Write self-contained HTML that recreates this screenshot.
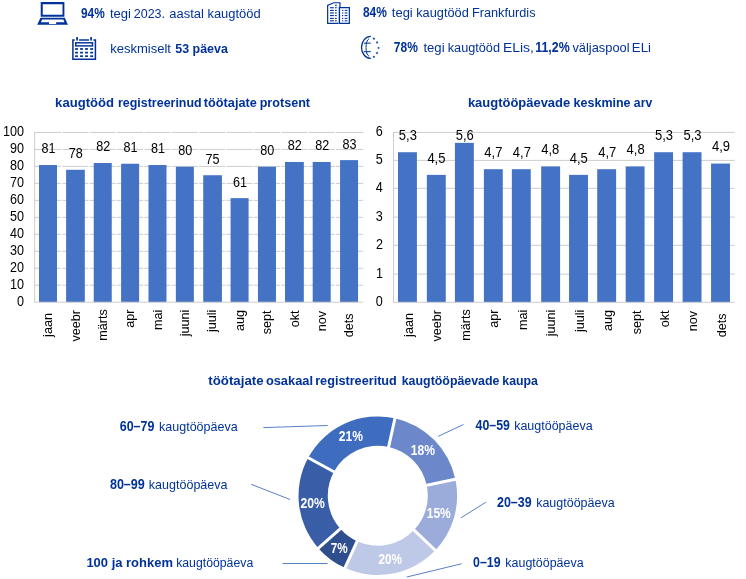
<!DOCTYPE html>
<html><head><meta charset="utf-8"><title>Kaugtöö</title>
<style>html,body{margin:0;padding:0;background:#fff;}body{width:746px;height:579px;overflow:hidden;font-family:"Liberation Sans",sans-serif;}svg{display:block;}text{font-family:"Liberation Sans",sans-serif;}#wrap{will-change:transform;width:746px;height:579px;}</style></head><body><div id="wrap">
<svg width="746" height="579" viewBox="0 0 746 579">
<rect width="746" height="579" fill="#fff"/>
<text transform="translate(80.99,18.00) rotate(0.02) scale(0.8468,1.0)" font-size="14" font-weight="bold" fill="#003299">94%</text>
<text transform="translate(110.00,18.00) rotate(0.02) scale(0.9804,1.0)" font-size="13.3" fill="#003299">tegi</text>
<text transform="translate(133.78,18.00) rotate(0.02) scale(0.9389,1.0)" font-size="13.3" fill="#003299">2023.</text>
<text transform="translate(169.25,18.00) rotate(0.02) scale(0.9751,1.0)" font-size="13.3" fill="#003299">aastal</text>
<text transform="translate(207.43,18.00) rotate(0.02) scale(0.9742,1.0)" font-size="13.3" fill="#003299">kaugtööd</text>
<text transform="translate(110.22,53.00) rotate(0.02) scale(0.9790,1.0)" font-size="13.3" fill="#003299">keskmiselt</text>
<text transform="translate(175.23,53.00) rotate(0.02) scale(0.9168,1.0)" font-size="13.6" font-weight="bold" fill="#003299">53 päeva</text>
<text transform="translate(362.91,17.00) rotate(0.02) scale(0.8568,1.0)" font-size="14" font-weight="bold" fill="#003299">84%</text>
<text transform="translate(391.80,17.00) rotate(0.02) scale(0.9779,1.0)" font-size="13.3" fill="#003299">tegi</text>
<text transform="translate(416.24,17.00) rotate(0.02) scale(0.9610,1.0)" font-size="13.3" fill="#003299">kaugtööd</text>
<text transform="translate(471.95,17.00) rotate(0.02) scale(0.9574,1.0)" font-size="13.3" fill="#003299">Frankfurdis</text>
<text transform="translate(393.79,52.00) rotate(0.02) scale(0.8575,1.0)" font-size="14" font-weight="bold" fill="#003299">78%</text>
<text transform="translate(423.40,52.00) rotate(0.02) scale(0.9878,1.0)" font-size="13.3" fill="#003299">tegi</text>
<text transform="translate(447.74,52.00) rotate(0.02) scale(0.9553,1.0)" font-size="13.3" fill="#003299">kaugtööd</text>
<text transform="translate(502.90,52.00) rotate(0.02) scale(1.0508,1.0)" font-size="13.3" fill="#003299">ELis,</text>
<text transform="translate(535.22,52.00) rotate(0.02) scale(0.8869,1.0)" font-size="14" font-weight="bold" fill="#003299">11,2%</text>
<text transform="translate(572.44,52.00) rotate(0.02) scale(0.9658,1.0)" font-size="13.3" fill="#003299">väljaspool</text>
<text transform="translate(631.87,52.00) rotate(0.02) scale(0.9893,1.0)" font-size="13.3" fill="#003299">ELi</text>
<path fill-rule="evenodd" d="M40.72 1.94 H64.4 V16.7 H40.72 Z M42.76 4.18 V14.87 H62.5 V4.18 Z" fill="#003299"/>
<path fill-rule="evenodd" d="M40.52 17.83 L64.8 17.83 L67.9 24.86 L37.16 24.86 Z M42.15 19.46 L40.9 22.16 L49.0 22.16 L49.0 23.94 L56.16 23.94 L56.16 22.16 L64.46 22.16 L63.3 19.46 Z" fill="#003299"/>
<g fill="none" stroke="#003299" stroke-width="1.5"><path d="M74.7 40 H72.9 V59.15 H95.4 V40 H93.4"/><path d="M79.1 40 H89"/></g>
<rect x="75.7" y="42.8" width="16.8" height="3.1" fill="none" stroke="#003299" stroke-width="1.45"/>
<g fill="#003299"><rect x="76.2" y="37.05" width="1.75" height="3.5"/><rect x="90.2" y="37.05" width="1.75" height="3.5"/>
<rect x="75.1" y="48.1" width="2.85" height="1.75"/>
<rect x="80.1" y="48.1" width="2.85" height="1.75"/>
<rect x="85.1" y="48.1" width="2.85" height="1.75"/>
<rect x="90.2" y="48.1" width="2.85" height="1.75"/>
<rect x="75.1" y="51.75" width="2.85" height="1.75"/>
<rect x="80.1" y="51.75" width="2.85" height="1.75"/>
<rect x="85.1" y="51.75" width="2.85" height="1.75"/>
<rect x="90.2" y="51.75" width="2.85" height="1.75"/>
<rect x="75.1" y="55.3" width="2.85" height="1.75"/>
<rect x="80.1" y="55.3" width="2.85" height="1.75"/>
<rect x="85.1" y="55.3" width="2.85" height="1.75"/>
<rect x="90.2" y="55.3" width="2.85" height="1.75"/>
</g>
<g fill="none" stroke="#003299" stroke-width="1.2" stroke-linejoin="miter"><path d="M338.5 23.3 L327.65 23.3 L327.65 5.5 L333.7 2.75 L339.95 2.75 L339.95 7.6"/><path d="M339.4 7.65 L349.35 7.65 L349.35 23.3 L339.4 23.3"/></g>
<line x1="339.4" y1="7" x2="339.4" y2="23.9" stroke="#003299" stroke-width="1.4"/>
<g fill="#003299">
<rect x="334.95" y="4.75" width="1.8" height="1.1"/>
<rect x="330.0" y="7.19" width="3.85" height="1.1"/>
<rect x="334.95" y="7.19" width="1.8" height="1.1"/>
<rect x="330.0" y="9.85" width="3.85" height="1.1"/>
<rect x="334.95" y="9.85" width="1.8" height="1.1"/>
<rect x="330.0" y="12.41" width="3.85" height="1.1"/>
<rect x="334.95" y="12.41" width="1.8" height="1.1"/>
<rect x="330.0" y="15.02" width="3.85" height="1.1"/>
<rect x="334.95" y="15.02" width="1.8" height="1.1"/>
<rect x="330.0" y="17.85" width="3.85" height="1.1"/>
<rect x="334.95" y="17.85" width="1.8" height="1.1"/>
<rect x="330.0" y="20.25" width="3.85" height="1.1"/>
<rect x="334.95" y="20.25" width="1.8" height="1.1"/>
<rect x="342.05" y="9.85" width="1.25" height="1.1"/><rect x="344.7" y="9.85" width="2.7" height="1.1"/>
<rect x="342.05" y="12.41" width="1.25" height="1.1"/><rect x="344.7" y="12.41" width="2.7" height="1.1"/>
<rect x="342.05" y="15.02" width="1.25" height="1.1"/><rect x="344.7" y="15.02" width="2.7" height="1.1"/>
<rect x="342.05" y="17.85" width="1.25" height="1.1"/><rect x="344.7" y="17.85" width="2.7" height="1.1"/>
<rect x="342.05" y="20.25" width="1.25" height="1.1"/><rect x="344.7" y="20.25" width="2.7" height="1.1"/>
</g>
<g fill="none" stroke="#003299"><path d="M370.8 36.45 A9.3 11.0 0 0 0 370.8 58.45" stroke-width="1.3"/><path d="M369.0 38.7 A4.2 9.2 0 0 0 369.0 56.3" stroke-width="1.0"/><path d="M363.8 43.15 H370.8 M363.8 51.7 H370.8" stroke-width="1.0"/></g>
<polygon points="373.90,37.10 374.28,38.12 375.37,38.17 374.52,38.85 374.81,39.90 373.90,39.30 372.99,39.90 373.28,38.85 372.43,38.17 373.52,38.12" fill="#003299"/>
<polygon points="377.10,40.85 377.48,41.87 378.57,41.92 377.72,42.60 378.01,43.65 377.10,43.05 376.19,43.65 376.48,42.60 375.63,41.92 376.72,41.87" fill="#003299"/>
<polygon points="378.50,46.40 378.88,47.42 379.97,47.47 379.12,48.15 379.41,49.20 378.50,48.60 377.59,49.20 377.88,48.15 377.03,47.47 378.12,47.42" fill="#003299"/>
<polygon points="377.00,51.55 377.38,52.57 378.47,52.62 377.62,53.30 377.91,54.35 377.00,53.75 376.09,54.35 376.38,53.30 375.53,52.62 376.62,52.57" fill="#003299"/>
<polygon points="373.90,55.35 374.28,56.37 375.37,56.42 374.52,57.10 374.81,58.15 373.90,57.55 372.99,58.15 373.28,57.10 372.43,56.42 373.52,56.37" fill="#003299"/>
<text transform="translate(55.11,107.00) rotate(0.02) scale(0.9848,1.0)" font-size="13.3" font-weight="bold" fill="#003299">kaugtööd</text>
<text transform="translate(117.99,107.00) rotate(0.02) scale(0.9358,1.0)" font-size="13.3" font-weight="bold" fill="#003299">registreerinud</text>
<text transform="translate(203.84,107.00) rotate(0.02) scale(0.9555,1.0)" font-size="13.3" font-weight="bold" fill="#003299">töötajate</text>
<text transform="translate(259.64,107.00) rotate(0.02) scale(0.9483,1.0)" font-size="13.3" font-weight="bold" fill="#003299">protsent</text>
<text transform="translate(467.89,107.00) rotate(0.02) scale(0.9761,1.0)" font-size="13.3" font-weight="bold" fill="#003299">kaugtööpäevade</text>
<text transform="translate(573.62,107.00) rotate(0.02) scale(0.9401,1.0)" font-size="13.3" font-weight="bold" fill="#003299">keskmine</text>
<text transform="translate(633.83,107.00) rotate(0.02) scale(0.9222,1.0)" font-size="13.3" font-weight="bold" fill="#003299">arv</text>
<text transform="translate(208.33,385.00) rotate(0.02) scale(0.9982,1.0)" font-size="13.3" font-weight="bold" fill="#003299">töötajate</text>
<text transform="translate(265.89,385.00) rotate(0.02) scale(0.9662,1.0)" font-size="13.3" font-weight="bold" fill="#003299">osakaal</text>
<text transform="translate(315.18,385.00) rotate(0.02) scale(0.9532,1.0)" font-size="13.3" font-weight="bold" fill="#003299">registreeritud</text>
<text transform="translate(401.73,385.00) rotate(0.02) scale(0.9317,1.0)" font-size="13.3" font-weight="bold" fill="#003299">kaugtööpäevade</text>
<text transform="translate(502.34,385.00) rotate(0.02) scale(0.9254,1.0)" font-size="13.3" font-weight="bold" fill="#003299">kaupa</text>
<text transform="translate(16.93,305.80) rotate(0.02) scale(0.9000,1.0)" font-size="14" fill="#000">0</text>
<line x1="34.65" y1="285.22" x2="363.2" y2="285.22" stroke="#CDCDCD" stroke-width="1"/>
<text transform="translate(9.94,288.82) rotate(0.02) scale(0.9000,1.0)" font-size="14" fill="#000">10</text>
<line x1="34.65" y1="268.25" x2="363.2" y2="268.25" stroke="#CDCDCD" stroke-width="1"/>
<text transform="translate(9.94,271.85) rotate(0.02) scale(0.9000,1.0)" font-size="14" fill="#000">20</text>
<line x1="34.65" y1="251.27" x2="363.2" y2="251.27" stroke="#CDCDCD" stroke-width="1"/>
<text transform="translate(9.94,254.87) rotate(0.02) scale(0.9000,1.0)" font-size="14" fill="#000">30</text>
<line x1="34.65" y1="234.30" x2="363.2" y2="234.30" stroke="#CDCDCD" stroke-width="1"/>
<text transform="translate(9.94,237.90) rotate(0.02) scale(0.9000,1.0)" font-size="14" fill="#000">40</text>
<line x1="34.65" y1="217.32" x2="363.2" y2="217.32" stroke="#CDCDCD" stroke-width="1"/>
<text transform="translate(9.94,220.92) rotate(0.02) scale(0.9000,1.0)" font-size="14" fill="#000">50</text>
<line x1="34.65" y1="200.35" x2="363.2" y2="200.35" stroke="#CDCDCD" stroke-width="1"/>
<text transform="translate(9.94,203.95) rotate(0.02) scale(0.9000,1.0)" font-size="14" fill="#000">60</text>
<line x1="34.65" y1="183.38" x2="363.2" y2="183.38" stroke="#CDCDCD" stroke-width="1"/>
<text transform="translate(9.94,186.97) rotate(0.02) scale(0.9000,1.0)" font-size="14" fill="#000">70</text>
<line x1="34.65" y1="166.40" x2="363.2" y2="166.40" stroke="#CDCDCD" stroke-width="1"/>
<text transform="translate(9.94,170.00) rotate(0.02) scale(0.9000,1.0)" font-size="14" fill="#000">80</text>
<line x1="34.65" y1="149.42" x2="363.2" y2="149.42" stroke="#CDCDCD" stroke-width="1"/>
<text transform="translate(9.94,153.02) rotate(0.02) scale(0.9000,1.0)" font-size="14" fill="#000">90</text>
<line x1="34.65" y1="132.45" x2="363.2" y2="132.45" stroke="#CDCDCD" stroke-width="1"/>
<text transform="translate(3.05,136.05) rotate(0.02) scale(0.9003,1.0)" font-size="14" fill="#000">100</text>
<line x1="61.69" y1="130.45" x2="61.69" y2="301.2" stroke="#fff" stroke-width="1.2"/>
<line x1="89.06" y1="130.45" x2="89.06" y2="301.2" stroke="#fff" stroke-width="1.2"/>
<line x1="116.42" y1="130.45" x2="116.42" y2="301.2" stroke="#fff" stroke-width="1.2"/>
<line x1="143.80" y1="130.45" x2="143.80" y2="301.2" stroke="#fff" stroke-width="1.2"/>
<line x1="171.16" y1="130.45" x2="171.16" y2="301.2" stroke="#fff" stroke-width="1.2"/>
<line x1="198.53" y1="130.45" x2="198.53" y2="301.2" stroke="#fff" stroke-width="1.2"/>
<line x1="225.91" y1="130.45" x2="225.91" y2="301.2" stroke="#fff" stroke-width="1.2"/>
<line x1="253.28" y1="130.45" x2="253.28" y2="301.2" stroke="#fff" stroke-width="1.2"/>
<line x1="280.64" y1="130.45" x2="280.64" y2="301.2" stroke="#fff" stroke-width="1.2"/>
<line x1="308.01" y1="130.45" x2="308.01" y2="301.2" stroke="#fff" stroke-width="1.2"/>
<line x1="335.38" y1="130.45" x2="335.38" y2="301.2" stroke="#fff" stroke-width="1.2"/>
<rect x="39.00" y="165.04" width="18.00" height="137.16" fill="#4472C4"/>
<text transform="translate(41.44,153.24) rotate(0.02) scale(0.9000,1.0)" font-size="14" fill="#000">81</text>
<text transform="translate(52.20,336.89) rotate(-90.02) scale(0.947,1)" font-size="13.3" fill="#000">jaan</text>
<rect x="66.12" y="169.79" width="18.70" height="132.41" fill="#4472C4"/>
<text transform="translate(68.71,158.29) rotate(0.02) scale(0.9000,1.0)" font-size="14" fill="#000">78</text>
<text transform="translate(79.57,341.60) rotate(-90.02) scale(0.947,1)" font-size="13.3" fill="#000">veebr</text>
<rect x="93.74" y="163.00" width="18.00" height="139.19" fill="#4472C4"/>
<text transform="translate(96.19,150.60) rotate(0.02) scale(0.9000,1.0)" font-size="14" fill="#000">82</text>
<text transform="translate(106.94,340.65) rotate(-90.02) scale(0.947,1)" font-size="13.3" fill="#000">märts</text>
<rect x="121.11" y="163.75" width="18.00" height="138.45" fill="#4472C4"/>
<text transform="translate(123.55,151.95) rotate(0.02) scale(0.9000,1.0)" font-size="14" fill="#000">81</text>
<text transform="translate(134.31,327.81) rotate(-90.02) scale(0.947,1)" font-size="13.3" fill="#000">apr</text>
<rect x="148.48" y="165.04" width="18.00" height="137.16" fill="#4472C4"/>
<text transform="translate(150.92,152.84) rotate(0.02) scale(0.9000,1.0)" font-size="14" fill="#000">81</text>
<text transform="translate(161.68,329.96) rotate(-90.02) scale(0.947,1)" font-size="13.3" fill="#000">mai</text>
<rect x="175.85" y="166.74" width="18.00" height="135.46" fill="#4472C4"/>
<text transform="translate(178.23,154.94) rotate(0.02) scale(0.9000,1.0)" font-size="14" fill="#000">80</text>
<text transform="translate(189.05,336.26) rotate(-90.02) scale(0.947,1)" font-size="13.3" fill="#000">juuni</text>
<rect x="203.22" y="175.23" width="18.70" height="126.97" fill="#4472C4"/>
<text transform="translate(205.55,163.73) rotate(0.02) scale(0.9000,1.0)" font-size="14" fill="#000">75</text>
<text transform="translate(216.42,332.07) rotate(-90.02) scale(0.947,1)" font-size="13.3" fill="#000">juuli</text>
<rect x="230.59" y="198.14" width="18.00" height="104.06" fill="#4472C4"/>
<text transform="translate(232.98,186.64) rotate(0.02) scale(0.9000,1.0)" font-size="14" fill="#000">61</text>
<text transform="translate(243.79,331.02) rotate(-90.02) scale(0.947,1)" font-size="13.3" fill="#000">aug</text>
<rect x="257.96" y="166.74" width="18.00" height="135.46" fill="#4472C4"/>
<text transform="translate(260.34,155.24) rotate(0.02) scale(0.9000,1.0)" font-size="14" fill="#000">80</text>
<text transform="translate(271.16,334.31) rotate(-90.02) scale(0.947,1)" font-size="13.3" fill="#000">sept</text>
<rect x="285.03" y="161.99" width="18.80" height="140.21" fill="#4472C4"/>
<text transform="translate(287.78,150.49) rotate(0.02) scale(0.9000,1.0)" font-size="14" fill="#000">82</text>
<text transform="translate(298.53,327.29) rotate(-90.02) scale(0.947,1)" font-size="13.3" fill="#000">okt</text>
<rect x="312.70" y="161.99" width="18.00" height="140.21" fill="#4472C4"/>
<text transform="translate(315.15,150.49) rotate(0.02) scale(0.9000,1.0)" font-size="14" fill="#000">82</text>
<text transform="translate(325.90,331.25) rotate(-90.02) scale(0.947,1)" font-size="13.3" fill="#000">nov</text>
<rect x="340.07" y="160.12" width="18.00" height="142.08" fill="#4472C4"/>
<text transform="translate(342.48,148.62) rotate(0.02) scale(0.9000,1.0)" font-size="14" fill="#000">83</text>
<text transform="translate(353.27,337.16) rotate(-90.02) scale(0.947,1)" font-size="13.3" fill="#000">dets</text>
<line x1="34.65" y1="131.95" x2="34.65" y2="302.7" stroke="#CDCDCD" stroke-width="1"/>
<line x1="34.65" y1="302.2" x2="363.2" y2="302.2" stroke="#CDCDCD" stroke-width="1"/>
<text transform="translate(375.78,305.90) rotate(0.02) scale(0.9000,1.0)" font-size="14" fill="#000">0</text>
<line x1="393.5" y1="274.10" x2="734.8" y2="274.10" stroke="#CDCDCD" stroke-width="1"/>
<text transform="translate(375.91,277.70) rotate(0.02) scale(0.9000,1.0)" font-size="14" fill="#000">1</text>
<line x1="393.5" y1="245.30" x2="734.8" y2="245.30" stroke="#CDCDCD" stroke-width="1"/>
<text transform="translate(375.94,248.90) rotate(0.02) scale(0.9000,1.0)" font-size="14" fill="#000">2</text>
<line x1="393.5" y1="217.10" x2="734.8" y2="217.10" stroke="#CDCDCD" stroke-width="1"/>
<text transform="translate(375.84,220.70) rotate(0.02) scale(0.9000,1.0)" font-size="14" fill="#000">3</text>
<line x1="393.5" y1="188.30" x2="734.8" y2="188.30" stroke="#CDCDCD" stroke-width="1"/>
<text transform="translate(375.65,191.90) rotate(0.02) scale(0.9000,1.0)" font-size="14" fill="#000">4</text>
<line x1="393.5" y1="160.40" x2="734.8" y2="160.40" stroke="#CDCDCD" stroke-width="1"/>
<text transform="translate(375.81,164.00) rotate(0.02) scale(0.9000,1.0)" font-size="14" fill="#000">5</text>
<line x1="393.5" y1="132.40" x2="734.8" y2="132.40" stroke="#CDCDCD" stroke-width="1"/>
<text transform="translate(375.84,136.00) rotate(0.02) scale(0.9000,1.0)" font-size="14" fill="#000">6</text>
<rect x="398.00" y="152.22" width="18.90" height="150.08" fill="#4472C4"/>
<text transform="translate(398.82,140.12) rotate(0.02) scale(0.9300,1.0)" font-size="14" fill="#000">5,3</text>
<text transform="translate(412.85,336.89) rotate(-90.02) scale(0.947,1)" font-size="13.3" fill="#000">jaan</text>
<rect x="426.86" y="174.88" width="18.90" height="127.43" fill="#4472C4"/>
<text transform="translate(427.38,162.78) rotate(0.02) scale(0.9300,1.0)" font-size="14" fill="#000">4,5</text>
<text transform="translate(441.31,341.60) rotate(-90.02) scale(0.947,1)" font-size="13.3" fill="#000">veebr</text>
<rect x="454.92" y="142.88" width="18.90" height="159.42" fill="#4472C4"/>
<text transform="translate(455.74,139.90) rotate(0.02) scale(0.9300,1.0)" font-size="14" fill="#000">5,6</text>
<text transform="translate(469.77,340.65) rotate(-90.02) scale(0.947,1)" font-size="13.3" fill="#000">märts</text>
<rect x="483.88" y="169.21" width="18.90" height="133.09" fill="#4472C4"/>
<text transform="translate(484.36,157.11) rotate(0.02) scale(0.9300,1.0)" font-size="14" fill="#000">4,7</text>
<text transform="translate(498.23,327.81) rotate(-90.02) scale(0.947,1)" font-size="13.3" fill="#000">apr</text>
<rect x="511.84" y="169.21" width="18.90" height="133.09" fill="#4472C4"/>
<text transform="translate(512.82,157.11) rotate(0.02) scale(0.9300,1.0)" font-size="14" fill="#000">4,7</text>
<text transform="translate(526.69,329.96) rotate(-90.02) scale(0.947,1)" font-size="13.3" fill="#000">mai</text>
<rect x="541.20" y="166.38" width="18.90" height="135.92" fill="#4472C4"/>
<text transform="translate(541.23,154.28) rotate(0.02) scale(0.9300,1.0)" font-size="14" fill="#000">4,8</text>
<text transform="translate(555.15,336.26) rotate(-90.02) scale(0.947,1)" font-size="13.3" fill="#000">juuni</text>
<rect x="569.06" y="174.88" width="18.90" height="127.43" fill="#4472C4"/>
<text transform="translate(569.68,162.78) rotate(0.02) scale(0.9300,1.0)" font-size="14" fill="#000">4,5</text>
<text transform="translate(583.61,332.07) rotate(-90.02) scale(0.947,1)" font-size="13.3" fill="#000">juuli</text>
<rect x="597.22" y="169.21" width="18.90" height="133.09" fill="#4472C4"/>
<text transform="translate(598.20,157.11) rotate(0.02) scale(0.9300,1.0)" font-size="14" fill="#000">4,7</text>
<text transform="translate(612.07,331.02) rotate(-90.02) scale(0.947,1)" font-size="13.3" fill="#000">aug</text>
<rect x="625.68" y="166.38" width="18.90" height="135.92" fill="#4472C4"/>
<text transform="translate(626.61,154.28) rotate(0.02) scale(0.9300,1.0)" font-size="14" fill="#000">4,8</text>
<text transform="translate(640.53,334.31) rotate(-90.02) scale(0.947,1)" font-size="13.3" fill="#000">sept</text>
<rect x="654.14" y="152.22" width="18.90" height="150.08" fill="#4472C4"/>
<text transform="translate(654.96,140.12) rotate(0.02) scale(0.9300,1.0)" font-size="14" fill="#000">5,3</text>
<text transform="translate(668.99,327.29) rotate(-90.02) scale(0.947,1)" font-size="13.3" fill="#000">okt</text>
<rect x="682.60" y="152.22" width="18.90" height="150.08" fill="#4472C4"/>
<text transform="translate(683.42,140.12) rotate(0.02) scale(0.9300,1.0)" font-size="14" fill="#000">5,3</text>
<text transform="translate(697.45,331.25) rotate(-90.02) scale(0.947,1)" font-size="13.3" fill="#000">nov</text>
<rect x="711.06" y="163.55" width="18.90" height="138.75" fill="#4472C4"/>
<text transform="translate(712.01,151.45) rotate(0.02) scale(0.9300,1.0)" font-size="14" fill="#000">4,9</text>
<text transform="translate(725.91,337.16) rotate(-90.02) scale(0.947,1)" font-size="13.3" fill="#000">dets</text>
<line x1="393.5" y1="131.9" x2="393.5" y2="302.8" stroke="#CDCDCD" stroke-width="1"/>
<line x1="393.5" y1="302.3" x2="734.8" y2="302.3" stroke="#CDCDCD" stroke-width="1"/>
<path d="M394.96 418.28 A79.3 79.3 0 0 1 455.37 479.21 L426.71 485.30 A50.0 50.0 0 0 0 388.62 446.89 Z" fill="#6C88CB"/>
<path d="M455.37 479.21 A79.3 79.3 0 0 1 435.32 550.29 L414.07 530.12 A50.0 50.0 0 0 0 426.71 485.30 Z" fill="#9BACDA"/>
<path d="M435.32 550.29 A79.3 79.3 0 0 1 344.91 567.86 L357.07 541.20 A50.0 50.0 0 0 0 414.07 530.12 Z" fill="#BDC9E6"/>
<path d="M344.91 567.86 A79.3 79.3 0 0 1 318.32 548.14 L340.29 528.77 A50.0 50.0 0 0 0 357.07 541.20 Z" fill="#2F4E8E"/>
<path d="M318.32 548.14 A79.3 79.3 0 0 1 308.18 457.74 L333.90 471.77 A50.0 50.0 0 0 0 340.29 528.77 Z" fill="#395DA6"/>
<path d="M308.18 457.74 A79.3 79.3 0 0 1 394.96 418.28 L388.62 446.89 A50.0 50.0 0 0 0 333.90 471.77 Z" fill="#3E6CBE"/>
<line x1="395.18" y1="417.30" x2="388.41" y2="447.86" stroke="#fff" stroke-width="3.0"/>
<line x1="456.35" y1="479.00" x2="425.73" y2="485.51" stroke="#fff" stroke-width="3.0"/>
<line x1="436.05" y1="550.97" x2="413.34" y2="529.43" stroke="#fff" stroke-width="3.0"/>
<line x1="344.50" y1="568.77" x2="357.48" y2="540.29" stroke="#fff" stroke-width="3.0"/>
<line x1="317.57" y1="548.80" x2="341.04" y2="528.10" stroke="#fff" stroke-width="3.0"/>
<line x1="307.30" y1="457.26" x2="334.78" y2="472.24" stroke="#fff" stroke-width="3.0"/>
<text transform="translate(410.74,455.00) rotate(0.02) scale(0.8665,1.0)" font-size="14" font-weight="bold" fill="#fff">18%</text>
<text transform="translate(426.75,518.00) rotate(0.02) scale(0.8590,1.0)" font-size="14" font-weight="bold" fill="#fff">15%</text>
<text transform="translate(378.39,564.00) rotate(0.02) scale(0.8432,1.0)" font-size="14" font-weight="bold" fill="#fff">20%</text>
<text transform="translate(330.70,553.00) rotate(0.02) scale(0.8416,1.0)" font-size="14" font-weight="bold" fill="#fff">7%</text>
<text transform="translate(300.47,508.00) rotate(0.02) scale(0.8689,1.0)" font-size="14" font-weight="bold" fill="#fff">20%</text>
<text transform="translate(338.78,441.00) rotate(0.02) scale(0.8616,1.0)" font-size="14" font-weight="bold" fill="#fff">21%</text>
<text transform="translate(119.73,431.00) rotate(0.02) scale(0.8917,1.0)" font-size="14" font-weight="bold" fill="#003299">60–79</text>
<text transform="translate(159.06,431.00) rotate(0.02) scale(0.9412,1.0)" font-size="13.3" fill="#003299">kaugtööpäeva</text>
<text transform="translate(109.89,489.00) rotate(0.02) scale(0.8980,1.0)" font-size="14" font-weight="bold" fill="#003299">80–99</text>
<text transform="translate(148.86,489.00) rotate(0.02) scale(0.9412,1.0)" font-size="13.3" fill="#003299">kaugtööpäeva</text>
<text transform="translate(86.39,567.00) rotate(0.02) scale(0.9616,1.0)" font-size="13.5" font-weight="bold" fill="#003299">100 ja rohkem</text>
<text transform="translate(176.17,567.00) rotate(0.02) scale(0.9231,1.0)" font-size="13.3" fill="#003299">kaugtööpäeva</text>
<text transform="translate(475.51,430.00) rotate(0.02) scale(0.8844,1.0)" font-size="14" font-weight="bold" fill="#003299">40–59</text>
<text transform="translate(514.16,430.00) rotate(0.02) scale(0.9400,1.0)" font-size="13.3" fill="#003299">kaugtööpäeva</text>
<text transform="translate(496.96,507.00) rotate(0.02) scale(0.8909,1.0)" font-size="14" font-weight="bold" fill="#003299">20–39</text>
<text transform="translate(536.16,507.00) rotate(0.02) scale(0.9400,1.0)" font-size="13.3" fill="#003299">kaugtööpäeva</text>
<text transform="translate(473.11,567.00) rotate(0.02) scale(0.8814,1.0)" font-size="14" font-weight="bold" fill="#003299">0–19</text>
<text transform="translate(505.36,567.00) rotate(0.02) scale(0.9376,1.0)" font-size="13.3" fill="#003299">kaugtööpäeva</text>
<g stroke="#4472C4" stroke-width="0.9" fill="none">
<line x1="263.3" y1="427.6" x2="327.7" y2="425.5"/>
<line x1="251.2" y1="484.3" x2="290.1" y2="499.5"/>
<line x1="282.5" y1="563.5" x2="327.5" y2="563.5"/>
<line x1="438.2" y1="436.3" x2="463.5" y2="424.5"/>
<line x1="461.0" y1="517.8" x2="485.9" y2="502.2"/>
<line x1="406.8" y1="577.0" x2="461.5" y2="563.8"/>
</g>
</svg></div></body></html>
